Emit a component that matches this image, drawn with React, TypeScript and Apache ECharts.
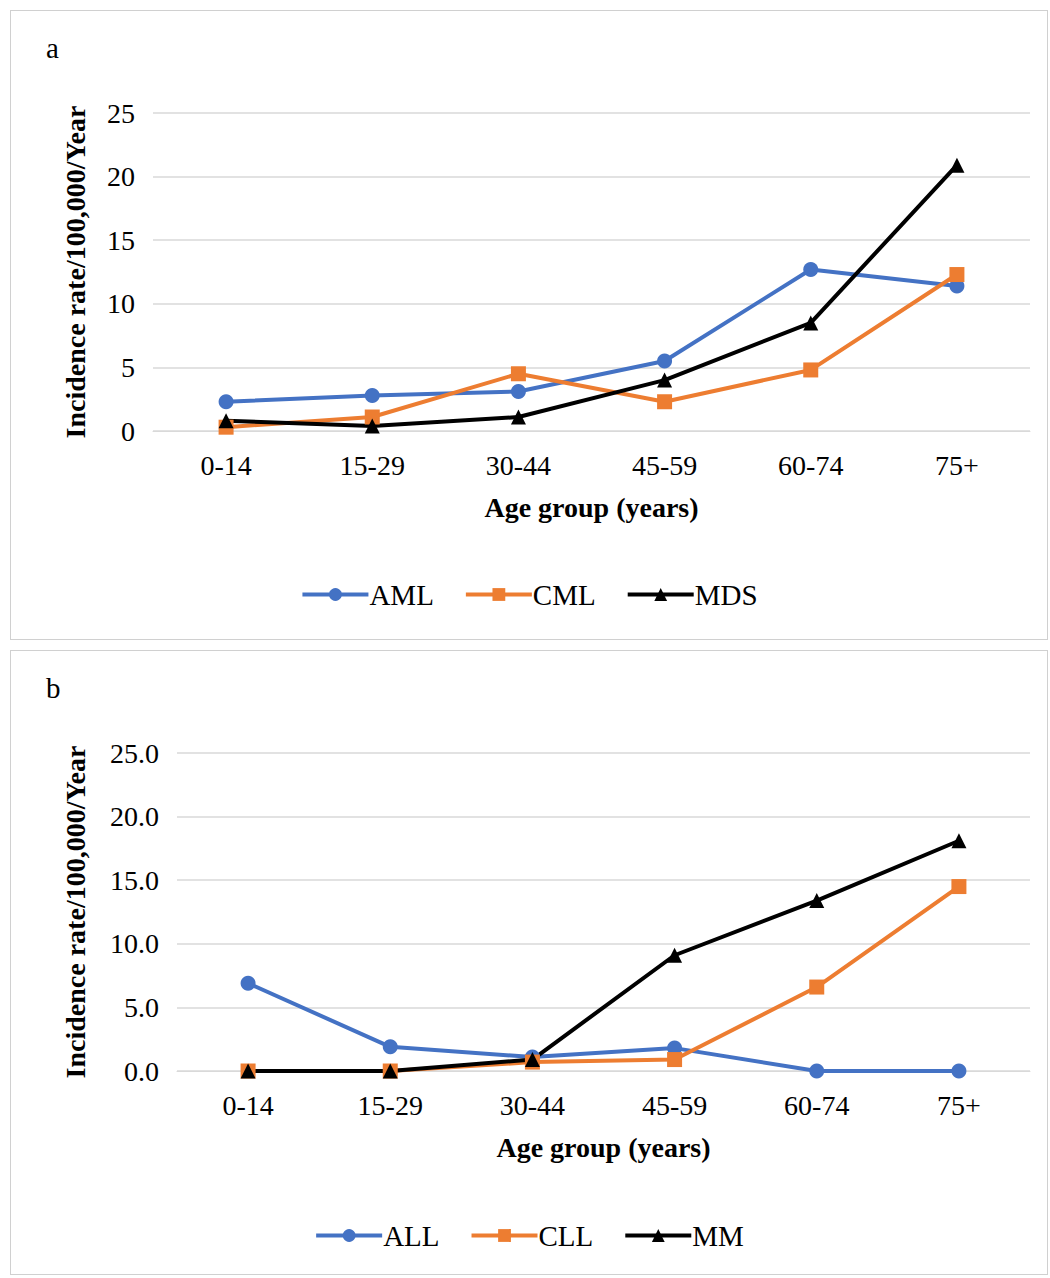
import React, { useEffect, useRef } from "react";
import * as echarts from "echarts";

const ageGroups = ["0-14", "15-29", "30-44", "45-59", "60-74", "75+"];

const aml = [2.3, 2.8, 3.1, 5.5, 12.7, 11.4];
const cml = [0.3, 1.1, 4.5, 2.3, 4.8, 12.3];
const mds = [0.8, 0.4, 1.1, 4.0, 8.5, 20.9];

const all = [6.9, 1.9, 1.1, 1.8, 0, 0];
const cll = [0, 0, 0.7, 0.9, 6.6, 14.5];
const mm = [0, 0, 0.9, 9.1, 13.4, 18.1];

const FONT = "Liberation Serif";

type Panel = {
  letter: string;
  names: string[];
  data: number[][];
  decimals: number;
  left: number;
  bottom: number;
  legendBottom: number;
};

function PanelChart({ p, height }: { p: Panel; height: number }) {
  const ref = useRef<HTMLDivElement>(null);
  useEffect(() => {
    if (!ref.current) return;
    const chart = echarts.init(ref.current, null, { renderer: "svg" });
    const colors = ["#4472c4", "#ed7d31", "#000000"];
    const symbols = ["circle", "rect", "triangle"];
    chart.setOption({
      animation: false,
      textStyle: { fontFamily: FONT },
      graphic: [
        { type: "text", left: 35, top: 22, style: { text: p.letter, font: `29px ${FONT}`, fill: "#000" } },
      ],
      grid: { left: p.left, right: 17, top: 102, bottom: p.bottom },
      legend: {
        bottom: p.legendBottom,
        left: "center",
        itemWidth: 66,
        itemHeight: 16,
        itemGap: 30,
        textStyle: { fontSize: 29, fontFamily: FONT, color: "#000", padding: [0, 0, 0, -4] },
        lineStyle: { width: 4 },
        data: p.names,
      },
      xAxis: {
        type: "category",
        data: ageGroups,
        name: "Age group (years)",
        nameLocation: "middle",
        nameGap: 62,
        nameTextStyle: { fontSize: 28, fontWeight: "bold", color: "#000", fontFamily: FONT },
        axisLine: { lineStyle: { color: "#d9d9d9" } },
        axisTick: { show: false },
        axisLabel: { fontSize: 28, color: "#000", margin: 20, fontFamily: FONT },
      },
      yAxis: {
        type: "value",
        min: 0,
        max: 25,
        interval: 5,
        name: "Incidence rate/100,000/Year",
        nameLocation: "middle",
        nameGap: p.left - 78,
        nameTextStyle: { fontSize: 28, fontWeight: "bold", color: "#000", fontFamily: FONT },
        axisLine: { show: false },
        axisLabel: {
          fontSize: 28,
          color: "#000",
          margin: 18,
          fontFamily: FONT,
          formatter: (v: number) => v.toFixed(p.decimals),
        },
        splitLine: { lineStyle: { color: "#d9d9d9", width: 1.5 } },
      },
      series: p.names.map((n, i) => ({
        name: n,
        type: "line",
        data: p.data[i],
        symbol: symbols[i],
        symbolSize: 15,
        color: colors[i],
        lineStyle: { width: 4, color: colors[i] },
        itemStyle: { color: colors[i] },
      })),
    });
    return () => chart.dispose();
  }, [p]);
  return <div ref={ref} style={{ width: "100%", height }} />;
}

const panelA: Panel = { letter: "a", names: ["AML", "CML", "MDS"], data: [aml, cml, mds], decimals: 0, left: 142, bottom: 207, legendBottom: 24 };
const panelB: Panel = { letter: "b", names: ["ALL", "CLL", "MM"], data: [all, cll, mm], decimals: 1, left: 166, bottom: 202, legendBottom: 18 };

export default function App() {
  const box: React.CSSProperties = {
    position: "absolute",
    left: 10,
    width: 1038,
    border: "1.5px solid #d0d0d0",
    boxSizing: "border-box",
    background: "#fff",
  };
  return (
    <div style={{ position: "absolute", left: 0, top: 0, width: 1050, height: 1278, background: "#fff" }}>
      <div style={{ ...box, top: 10, height: 630 }}>
        <PanelChart p={panelA} height={627} />
      </div>
      <div style={{ ...box, top: 650, height: 625 }}>
        <PanelChart p={panelB} height={622} />
      </div>
    </div>
  );
}
